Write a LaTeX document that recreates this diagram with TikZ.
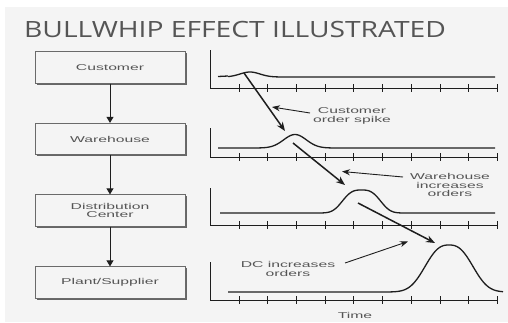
\documentclass[tikz,border=0pt]{standalone}
\usepackage{fontspec}
\setmainfont{Liberation Sans}
\newfontfamily\titlefont[FakeStretch=1.26]{Open Sans}
\newfontfamily\lblfont[FakeStretch=1.85]{Liberation Sans}
\usetikzlibrary{arrows.meta}
\definecolor{bggray}{HTML}{F4F4F4}
\definecolor{txtgray}{HTML}{555555}
\definecolor{boxgray}{HTML}{6A6A6A}
\definecolor{linecol}{HTML}{1E1E1E}
\tikzset{
  lbl/.style={font=\lblfont\fontsize{8.5}{8.3}\selectfont, text=txtgray, align=center, inner sep=0pt},
  stagebox/.style={draw=boxgray, line width=0.8pt, minimum width=150pt, minimum height=31.5pt, inner sep=0pt,
     fill=bggray, lbl},
  shadowline/.style={draw=gray!80!black, line width=1.2pt},
  flowarrow/.style={draw=linecol, line width=0.9pt, -{Triangle[length=6pt,width=7pt]}},
  axisline/.style={draw=linecol, line width=0.7pt},
  curve/.style={draw=linecol, line width=1.3pt, line join=round},
  bigarrow/.style={draw=linecol, line width=1.5pt, -{Stealth[length=9pt,width=7pt]}},
  callout/.style={draw=linecol, line width=0.9pt, -{Stealth[length=8pt,width=6pt]}},
}
\begin{document}
\begin{tikzpicture}[x=1pt,y=-1pt]
\useasboundingbox (0,0) rectangle (508,322);
\fill[white] (0,0) rectangle (508,322);
\fill[bggray] (5,7) rectangle (508,322);

% title
\node[font=\titlefont\fontsize{22.4}{24}\selectfont, text=txtgray, anchor=base west, inner sep=0pt] (title) at (24,37.5) {BULLWHIP EFFECT ILLUSTRATED};

% stage boxes with shadow
\foreach \yc/\nm/\tx in {67.5/cust/Customer, 139/wh/Warehouse, 210.5/dc/{Distribution\\Center}, 282.5/ps/{Plant/Supplier}}{
  \draw[shadowline] (36.5,\yc+16.5) -- (186,\yc+16.5) -- (186,\yc-14.5);
  \node[stagebox] (\nm) at (110,\yc) {\tx};
}
\draw[flowarrow] (cust) -- (wh);
\draw[flowarrow] (wh) -- (dc);
\draw[flowarrow] (dc) -- (ps);

% axes
\foreach \top/\ax in {50/88, 128/157, 188/225, 262/300}{
  \draw[axisline] (210,\top) -- (210,\ax) -- (497.5,\ax);
  \foreach \k in {0,...,9}{
    \draw[axisline] ({239+28.7*\k},\ax-4) -- ({239+28.7*\k},\ax+4);
  }
}

% curves
\draw[curve] (218,76.5) -- (228,76)
  plot[domain=228:290, samples=60, smooth] (\x,{77-5*exp(-((\x-250)/14)*((\x-250)/14))}) -- (495,77);
\draw[curve] (218,148) -- (250,148)
  plot[domain=250:345, samples=80, smooth] (\x,{148-13.5*exp(-((\x-295)/16)*((\x-295)/16))}) -- (495,148);
\draw[curve] (220,213) -- (305,213)
  plot[domain=305:420, samples=100, smooth] (\x,{213-23*exp(-pow(abs(\x-361.5)/22,3))}) -- (495,213);
\draw[curve] (228,292) -- (385,292)
  plot[domain=385:503, samples=120, smooth] (\x,{292-47*exp(-pow(abs(\x-449)/29,2.6))});

% diagonal arrows
\coordinate (a1s) at (244,73);  \coordinate (a1e) at (285,131);
\coordinate (a2s) at (293,143); \coordinate (a2e) at (345,185);
\coordinate (a3s) at (358,203); \coordinate (a3e) at (435,243);
\draw[bigarrow] (a1s) -- (a1e);
\draw[bigarrow] (a2s) -- (a2e);
\draw[bigarrow] (a3s) -- (a3e);

% labels
\node[lbl] (l1) at (352,116) {Customer\\order spike};
\node[lbl] (l2) at (450,185) {Warehouse\\increases\\orders};
\node[lbl] (l3) at (288,269) {DC increases\\orders};
\node[lbl] (time) at (355,315) {Time};

\coordinate (c1s) at (310,113); \coordinate (c1e) at (272,107);
\coordinate (c2s) at (403,177); \coordinate (c2e) at (342,171.5);
\coordinate (c3s) at (345,263); \coordinate (c3e) at (408,241.5);
\draw[callout] (c1s) -- (c1e);
\draw[callout] (c2s) -- (c2e);
\draw[callout] (c3s) -- (c3e);
\end{tikzpicture}
\end{document}
